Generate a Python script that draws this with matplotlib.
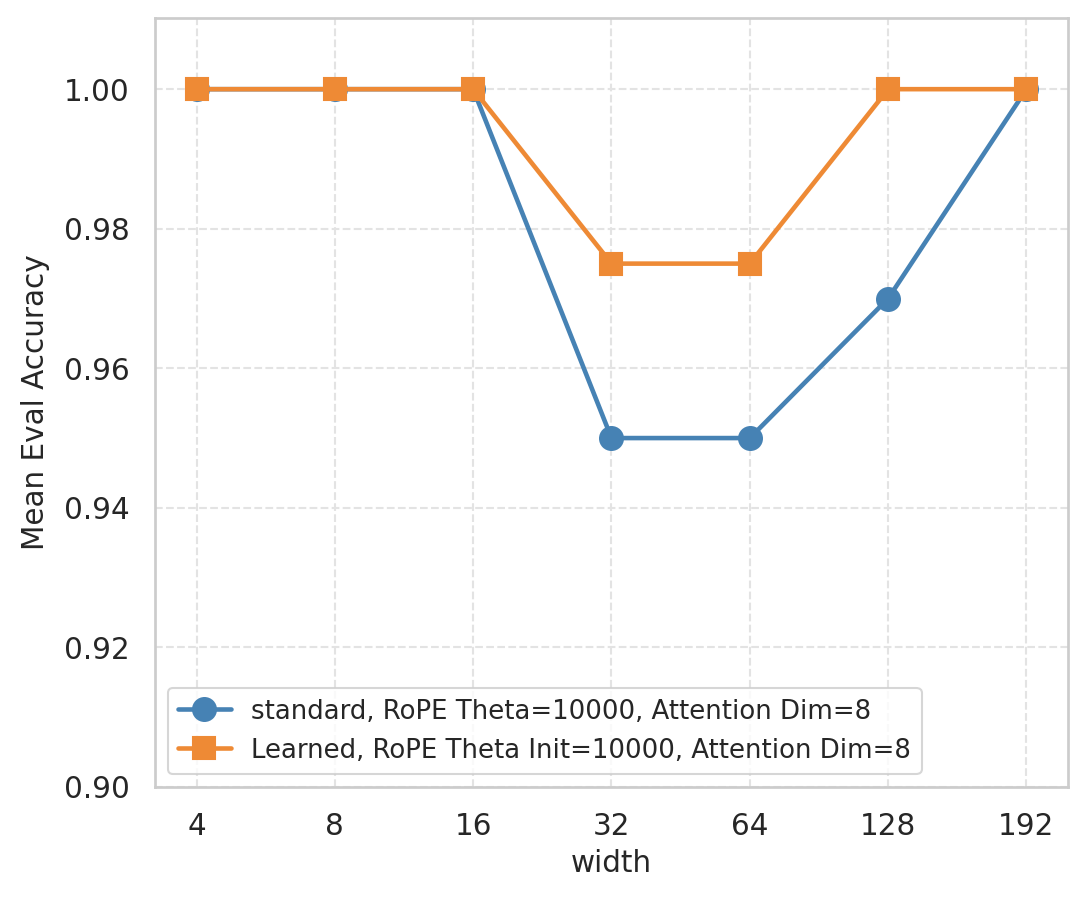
import matplotlib
matplotlib.use("Agg")
import matplotlib.pyplot as plt
import seaborn as sns

widths = ["4", "8", "16", "32", "64", "128", "192"]
standard = [1.0, 1.0, 1.0, 0.95, 0.95, 0.97, 1.0]
learned = [1.0, 1.0, 1.0, 0.975, 0.975, 1.0, 1.0]
yticks = [0.90, 0.92, 0.94, 0.96, 0.98, 1.00]

sns.set_theme(style="whitegrid")
plt.rcParams['font.family'] = ['DejaVu Sans']

fig = plt.figure(figsize=(7.2467, 6), dpi=150)
ax = fig.add_axes([0.1426, 0.1256, 0.9825 - 0.1426, 0.98 - 0.1256])

x = list(range(len(widths)))
ax.plot(x, standard, marker='o', color='#4682B4', lw=2.2, ms=11,
        label='standard, RoPE Theta=10000, Attention Dim=8')
ax.plot(x, learned, marker='s', color='#EE8A35', lw=2.2, ms=11,
        label='Learned, RoPE Theta Init=10000, Attention Dim=8')

ax.set_xticks(x)
ax.set_xticklabels(widths)
ax.set_yticks(yticks)
ax.set_yticklabels([f"{v:.2f}" for v in yticks])
ax.set_xlim(-0.3, 6.3)
ax.set_ylim(0.90, 1.0102)
ax.tick_params(labelsize=14.2, colors='#262626', pad=6)
ax.set_xlabel('width', fontsize=14.2, color='#262626', labelpad=4)
ax.set_ylabel('Mean Eval Accuracy', fontsize=14.2, color='#262626', labelpad=7)
ax.grid(True, linestyle='--', color='#e3e3e3', lw=1.0)
for s in ax.spines.values():
    s.set_color('#cccccc')
    s.set_linewidth(1.3)
ax.legend(loc='lower left', fontsize=12.5, frameon=True, borderaxespad=0.5)
fig.savefig('out.png', dpi=150)
